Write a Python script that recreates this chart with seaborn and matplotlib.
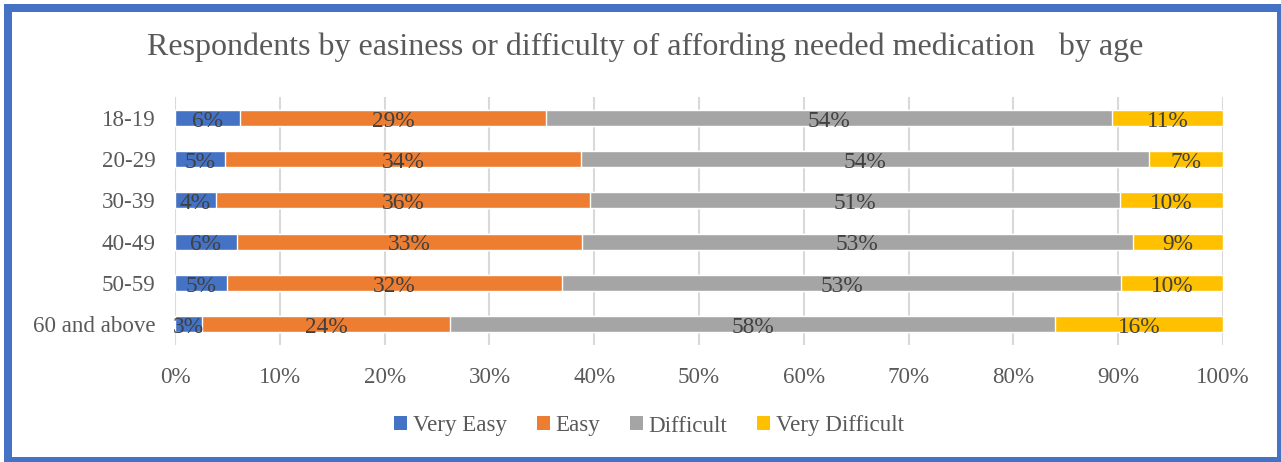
import matplotlib
matplotlib.use("Agg")
import matplotlib.pyplot as plt
from matplotlib.patches import Patch, Rectangle
import numpy as np
import pandas as pd
import seaborn as sns

# Share of respondents (%) per age group
age_groups = ["18-19", "20-29", "30-39", "40-49", "50-59", "60 and above"]
categories = ["Very Easy", "Easy", "Difficult", "Very Difficult"]
very_easy = [6.2, 4.8, 3.9, 5.9, 5.0, 2.6]
easy = [29.2, 33.9, 35.7, 32.9, 31.9, 23.6]
difficult = [54.0, 54.2, 50.6, 52.6, 53.4, 57.8]
very_difficult = [10.6, 7.1, 9.8, 8.6, 9.7, 16.0]
colors = ["#4472C4", "#ED7D31", "#A5A5A5", "#FFC000"]

title = "Respondents by easiness or difficulty of affording needed medication   by age"

sns.set_theme(style="white")
plt.rcParams["font.family"] = ["Liberation Serif", "DejaVu Serif"]

text_color = "#595959"
label_color = "#404040"

series = np.array([very_easy, easy, difficult, very_difficult])
cumulative = np.cumsum(series, axis=0)
df = pd.DataFrame({"age": age_groups})
for name, cum in zip(categories, cumulative):
    df[name] = cum

fig = plt.figure(figsize=(12.81, 4.62), dpi=100)
ax = fig.add_axes([175 / 1281, 1 - 344.6 / 462, (1223 - 175) / 1281, (344.6 - 97.4) / 462])

# Stack by layering cumulative totals, widest first
for name, color in reversed(list(zip(categories, colors))):
    sns.barplot(data=df, x=name, y="age", orient="h", color=color,
                width=0.39, saturation=1, ax=ax, zorder=2)

# Segment value labels
for i in range(len(age_groups)):
    left = 0.0
    for k in range(len(categories)):
        v = series[k, i]
        ax.text(left + v / 2, i + 0.08, f"{v:.0f}%", ha="center", va="center",
                fontsize=16.8, color=label_color, zorder=4)
        left += v

ax.set_xlim(0, 100)
ax.set_ylim(len(age_groups) - 0.5, -0.5)
ax.set_xticks(np.arange(0, 101, 10))
ax.set_xticklabels([f"{t}%" for t in range(0, 101, 10)])
ax.set_xlabel("")
ax.set_ylabel("")
ax.xaxis.grid(True, color="#D9D9D9", linewidth=1.5, zorder=0)
ax.yaxis.grid(False)
ax.set_axisbelow(True)
for s in ax.spines.values():
    s.set_visible(False)
ax.tick_params(axis="both", length=0, labelsize=16.6, labelcolor=text_color)
ax.tick_params(axis="x", pad=16)
ax.tick_params(axis="y", pad=14)

fig.text(645 / 1281, 1 - 47 / 462, title, ha="center", va="center",
         fontsize=23, color=text_color)

handles = [Patch(facecolor=c, edgecolor="none") for c in colors]
fig.legend(handles, categories, loc="center", bbox_to_anchor=(649 / 1281, 1 - 426 / 462),
           ncol=4, frameon=False, fontsize=16.6, labelcolor=text_color,
           handlelength=0.55, handleheight=0.55, handletextpad=0.25, columnspacing=1.3)

# Blue frame around the chart area
fig.patches.append(Rectangle((8 / 1281, 1 - 461 / 462), (1281 - 8) / 1281, (461 - 7.5) / 462,
                             transform=fig.transFigure, fill=False,
                             edgecolor="#4472C4", linewidth=8 * 0.72))

fig.savefig("out.png", dpi=100)
